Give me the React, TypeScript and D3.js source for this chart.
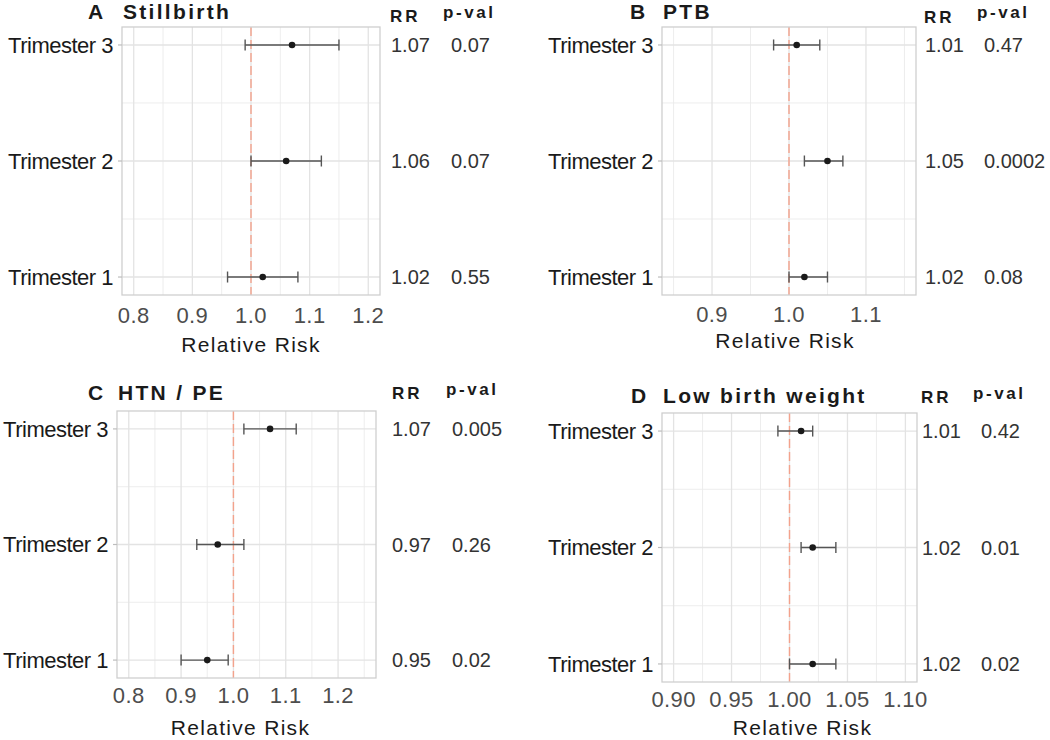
import React from "react";
import * as d3 from "d3";

const rows = ["Trimester 1", "Trimester 2", "Trimester 3"];
const panelLetters = ["A", "B", "C", "D"];
const panelTitles = ["Stillbirth", "PTB", "HTN / PE", "Low birth weight"];

const rrA = [1.02, 1.06, 1.07];
const loA = [0.96, 1.0, 0.99];
const hiA = [1.08, 1.12, 1.15];
const pA = ["0.55", "0.07", "0.07"];

const rrB = [1.02, 1.05, 1.01];
const loB = [1.0, 1.02, 0.98];
const hiB = [1.05, 1.07, 1.04];
const pB = ["0.08", "0.0002", "0.47"];

const rrC = [0.95, 0.97, 1.07];
const loC = [0.9, 0.93, 1.02];
const hiC = [0.99, 1.02, 1.12];
const pC = ["0.02", "0.26", "0.005"];

const rrD = [1.02, 1.02, 1.01];
const loD = [1.0, 1.01, 0.99];
const hiD = [1.04, 1.04, 1.02];
const pD = ["0.02", "0.01", "0.42"];

const limitsA = [0.8, 1.2];
const limitsB = [0.85, 1.15];
const limitsC = [0.8, 1.25];
const limitsD = [0.9, 1.1];

const ticksA = [0.8, 0.9, 1.0, 1.1, 1.2];
const ticksB = [0.9, 1.0, 1.1];
const ticksC = [0.8, 0.9, 1.0, 1.1, 1.2];
const ticksD = [0.9, 0.95, 1.0, 1.05, 1.1];

const minorA = [0.85, 0.95, 1.05, 1.15];
const minorB = [0.85, 0.95, 1.05, 1.15];
const minorC = [0.85, 0.95, 1.05, 1.15, 1.25];
const minorD = [0.925, 0.975, 1.025, 1.075];

const tickFormats = [".1f", ".1f", ".1f", ".2f"];
const refValue = 1.0;

const data = [
  { rr: rrA, lo: loA, hi: hiA, p: pA, limits: limitsA, ticks: ticksA, minor: minorA },
  { rr: rrB, lo: loB, hi: hiB, p: pB, limits: limitsB, ticks: ticksB, minor: minorB },
  { rr: rrC, lo: loC, hi: hiC, p: pC, limits: limitsC, ticks: ticksC, minor: minorC },
  { rr: rrD, lo: loD, hi: hiD, p: pD, limits: limitsD, ticks: ticksD, minor: minorD },
];

// layout (pixel positions of each panel)
const layouts = [
  { x0: 122, x1: 380, y0: 27, y1: 295, labelR: 113, letterX: 88, titleX: 123, titleY: 19, rrX: 390, rrY: 22, pvX: 443, pvY: 18, rrValX: 391, pValX: 451, tickY: 323, axTitleY: 352, axTitleDx: 0 },
  { x0: 662, x1: 916, y0: 27, y1: 295, labelR: 653, letterX: 630, titleX: 663, titleY: 19, rrX: 924, rrY: 23, pvX: 977, pvY: 18, rrValX: 925, pValX: 984, tickY: 322, axTitleY: 348, axTitleDx: -4 },
  { x0: 117, x1: 376, y0: 411, y1: 678, labelR: 108, letterX: 88, titleX: 118, titleY: 400, rrX: 392, rrY: 399, pvX: 446, pvY: 395, rrValX: 392, pValX: 452, tickY: 703, axTitleY: 735, axTitleDx: -6 },
  { x0: 662, x1: 917, y0: 413, y1: 682, labelR: 653, letterX: 631, titleX: 663, titleY: 403, rrX: 921, rrY: 403, pvX: 973, pvY: 399, rrValX: 922, pValX: 981, tickY: 707, axTitleY: 735, axTitleDx: 13 },
];

const FONT = "'Liberation Sans', Arial, sans-serif";

function Panel({ idx }: { idx: number }) {
  const d = data[idx];
  const L = layouts[idx];
  const span = d.limits[1] - d.limits[0];
  const x = d3
    .scaleLinear()
    .domain([d.limits[0] - 0.05 * span, d.limits[1] + 0.05 * span])
    .range([L.x0, L.x1]);
  const y = d3.scaleLinear().domain([0.845, 3.155]).range([L.y1, L.y0]);
  const fmt = d3.format(tickFormats[idx]);
  const rowIdx = rows.map((_, i) => i + 1);
  const minorRows = [1.5, 2.5];
  const cx = (L.x0 + L.x1) / 2;

  return (
    <g>
      {/* grid */}
      {d.minor.map((v) => (
        <line key={"mv" + v} x1={x(v)} x2={x(v)} y1={L.y0} y2={L.y1} stroke="#EBEBEB" strokeWidth={0.9} />
      ))}
      {minorRows.map((v) => (
        <line key={"mh" + v} x1={L.x0} x2={L.x1} y1={y(v)} y2={y(v)} stroke="#EBEBEB" strokeWidth={0.9} />
      ))}
      {d.ticks.map((v) => (
        <line key={"v" + v} x1={x(v)} x2={x(v)} y1={L.y0} y2={L.y1} stroke="#E3E3E3" strokeWidth={1.3} />
      ))}
      {rowIdx.map((v) => (
        <line key={"h" + v} x1={L.x0} x2={L.x1} y1={y(v)} y2={y(v)} stroke="#E3E3E3" strokeWidth={1.3} />
      ))}
      {/* reference line */}
      <line x1={x(refValue)} x2={x(refValue)} y1={L.y0} y2={L.y1} stroke="#F3A28C" strokeWidth={1.4} strokeDasharray="9,4" />
      {/* border */}
      <rect x={L.x0} y={L.y0} width={L.x1 - L.x0} height={L.y1 - L.y0} fill="none" stroke="#CFCFCF" strokeWidth={1.3} />
      {/* y ticks and labels */}
      {rows.map((r, i) => (
        <g key={r}>
          <line x1={L.x0 - 4} x2={L.x0} y1={y(i + 1)} y2={y(i + 1)} stroke="#BDBDBD" strokeWidth={1.2} />
          <text x={L.labelR} y={y(i + 1)} dy="0.36em" textAnchor="end" fontSize={22} fill="#1A1A1A" fontFamily={FONT} letterSpacing={-0.5}>
            {r}
          </text>
        </g>
      ))}
      {/* error bars & points */}
      {rows.map((r, i) => {
        const yy = y(i + 1);
        return (
          <g key={"e" + r}>
            <line x1={x(d.lo[i])} x2={x(d.hi[i])} y1={yy} y2={yy} stroke="#555555" strokeWidth={1.4} />
            <line x1={x(d.lo[i])} x2={x(d.lo[i])} y1={yy - 5.5} y2={yy + 5.5} stroke="#555555" strokeWidth={1.4} />
            <line x1={x(d.hi[i])} x2={x(d.hi[i])} y1={yy - 5.5} y2={yy + 5.5} stroke="#555555" strokeWidth={1.4} />
            <circle cx={x(d.rr[i])} cy={yy} r={3.3} fill="#1A1A1A" />
          </g>
        );
      })}
      {/* x tick labels */}
      {d.ticks.map((v) => (
        <text key={"t" + v} x={x(v)} y={L.tickY} textAnchor="middle" fontSize={22} fill="#4D4D4D" fontFamily={FONT} letterSpacing={0.4}>
          {fmt(v)}
        </text>
      ))}
      {/* axis title */}
      <text x={cx + L.axTitleDx} y={L.axTitleY} textAnchor="middle" fontSize={21} fill="#1A1A1A" fontFamily={FONT} letterSpacing={1.3}>
        Relative Risk
      </text>
      {/* panel title */}
      <text x={L.letterX} y={L.titleY} fontSize={21} fontWeight="bold" fill="#1A1A1A" fontFamily={FONT} letterSpacing={2}>
        {panelLetters[idx]}
      </text>
      <text x={L.titleX} y={L.titleY} fontSize={21} fontWeight="bold" fill="#1A1A1A" fontFamily={FONT} letterSpacing={2.3}>
        {panelTitles[idx]}
      </text>
      {/* column headers */}
      <text x={L.rrX} y={L.rrY} fontSize={17} fontWeight="bold" fill="#1A1A1A" fontFamily={FONT} letterSpacing={3}>
        RR
      </text>
      <text x={L.pvX} y={L.pvY} fontSize={17} fontWeight="bold" fill="#1A1A1A" fontFamily={FONT} letterSpacing={2.6}>
        p-val
      </text>
      {/* values */}
      {rows.map((r, i) => (
        <g key={"v" + r}>
          <text x={L.rrValX} y={y(i + 1)} dy="0.36em" fontSize={20} fill="#333333" fontFamily={FONT}>
            {d3.format(".2f")(d.rr[i])}
          </text>
          <text x={L.pValX} y={y(i + 1)} dy="0.36em" fontSize={20} fill="#333333" fontFamily={FONT}>
            {d.p[i]}
          </text>
        </g>
      ))}
    </g>
  );
}

export default function App() {
  return (
    <svg
      width={1050}
      height={740}
      style={{ position: "absolute", left: 0, top: 0, background: "#FFFFFF" }}
    >
      <rect x={0} y={0} width={1050} height={740} fill="#FFFFFF" />
      {data.map((_, i) => (
        <Panel key={i} idx={i} />
      ))}
    </svg>
  );
}
